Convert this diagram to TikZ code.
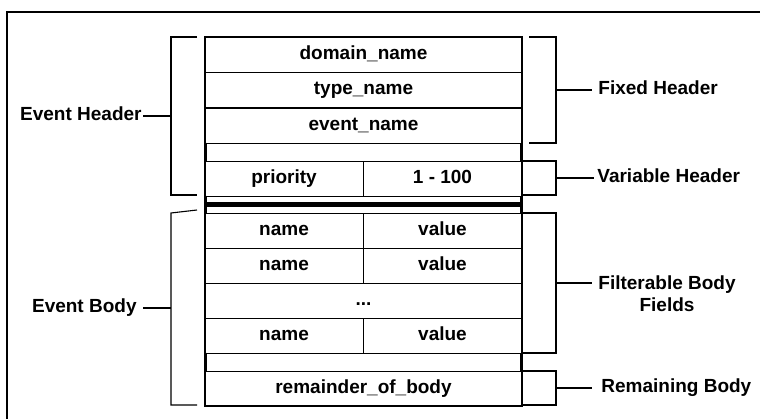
\documentclass[tikz,border=0pt]{standalone}
\usepackage{fontspec}
\setmainfont{Liberation Sans}
\usetikzlibrary{calc}

\begin{document}
\begin{tikzpicture}[x=1pt,y=-1pt,thick] %% one unit = one pixel, y downwards
		\tikzstyle{txt}=[font=\bfseries\fontsize{19}{22}\selectfont]
		\tikzstyle{row}=[txt,draw,line width=.8pt,minimum width=317pt,minimum height=35pt,inner sep=0pt,text height=13.7pt,text depth=4pt]
		\tikzstyle{cellL}=[row,minimum width=158pt]
		\tikzstyle{cellR}=[row,minimum width=159pt]
		\tikzstyle{gap}=[minimum width=317pt,inner sep=0pt]
		\tikzstyle{side}=[line width=3.5pt]
		\tikzstyle{brk}=[line width=1.1pt]
		\tikzstyle{lbl}=[txt,inner xsep=1pt,inner ysep=1pt,text height=13.7pt,text depth=4pt]
		\tikzstyle{rlbl}=[lbl,anchor=west,inner xsep=6pt]
		%% page and frame
		\clip (0,0) rectangle (760,419);
		\draw[line width=2.5pt] (7,12) rectangle (800,460);
		%% header rows
		\node[row] (dom) at (363.5,54.5) {domain\_name};
		\node[row] (typ) at (363.5,90) {type\_name};
		\node[row] (evt) at (363.5,125.5) {event\_name};
		\node[gap,minimum height=18pt] (gapA) at (363.5,152) {};
		\node[cellL] (pri) at (284,178.5) {priority};
		\node[cellR] (rng) at (442.5,178.5) {1 - 100};
		\node[gap,minimum height=17pt] (sep) at (363.5,204.5) {};
		%% body rows
		\foreach \y/\n in {230.5/1,265.5/2,335.5/3} {
			\node[cellL] (nm\n) at (284,\y) {name};
			\node[cellR] (val\n) at (442.5,\y) {value};
		}
		\node[row] (dots) at (363.5,300.5) {...};
		\node[gap,minimum height=18pt] (gapB) at (363.5,362) {};
		\node[row] (rem) at (363.5,388.5) {remainder\_of\_body};
		%% outer box, gaps and separator
		\draw[line width=2pt] (dom.north west) rectangle (rem.south east);
		\foreach \g in {gapA,sep,gapB} {
			\draw[side] ([xshift=1pt]\g.north west) -- ([xshift=1pt]\g.south west);
			\draw[side] ([xshift=-1pt]\g.north east) -- ([xshift=-1pt]\g.south east);
		}
		\draw[line width=5pt] (sep.west) -- (sep.east);
		%% left brackets
		\draw[brk] (197,37) -- (171,37) -- (171,195) -- (197,195);
		\draw[brk] (197,210) -- (171,213) -- (171,405) -- (197,405);
		\coordinate (ehmid) at (171,116);
		\coordinate (ebmid) at (171,308);
		\node[lbl,anchor=east] (evh) at (143,116) {Event Header};
		\node[lbl,anchor=east,inner xsep=6pt] (evb) at (143,308) {Event Body};
		\draw[brk] (evh) -- (ehmid);
		\draw[brk] (evb) -- (ebmid);
		%% right brackets
		\draw[brk] (529,37) -- (556,37) -- (556,143) -- (529,143);
		\draw[brk] (523,161) -- (556,161) -- (556,195) -- (523,195);
		\draw[brk] (523,213) -- (556,213) -- (556,353) -- (523,353);
		\draw[brk] (523,371) -- (556,371) -- (556,405) -- (523,405);
		\coordinate (fhmid) at (556,90);
		\coordinate (vhmid) at (556,178);
		\coordinate (fbmid) at (556,283);
		\coordinate (rbmid) at (556,388);
		\node[rlbl] (fix) at (592,90) {Fixed Header};
		\node[rlbl,inner xsep=3pt] (var) at (594,178) {Variable Header};
		\node[rlbl,align=center,text height=,text depth=] (fil) at (592,294) {Filterable Body\\Fields};
		\node[rlbl,inner xsep=9pt] (rmn) at (592,388) {Remaining Body};
		\draw[brk] (fhmid) -- (fix);
		\draw[brk] (vhmid) -- (var);
		\draw[brk] (fbmid) -- (fil.west |- fbmid);
		\draw[brk] (rbmid) -- (rmn);
	\end{tikzpicture}
\end{document}
